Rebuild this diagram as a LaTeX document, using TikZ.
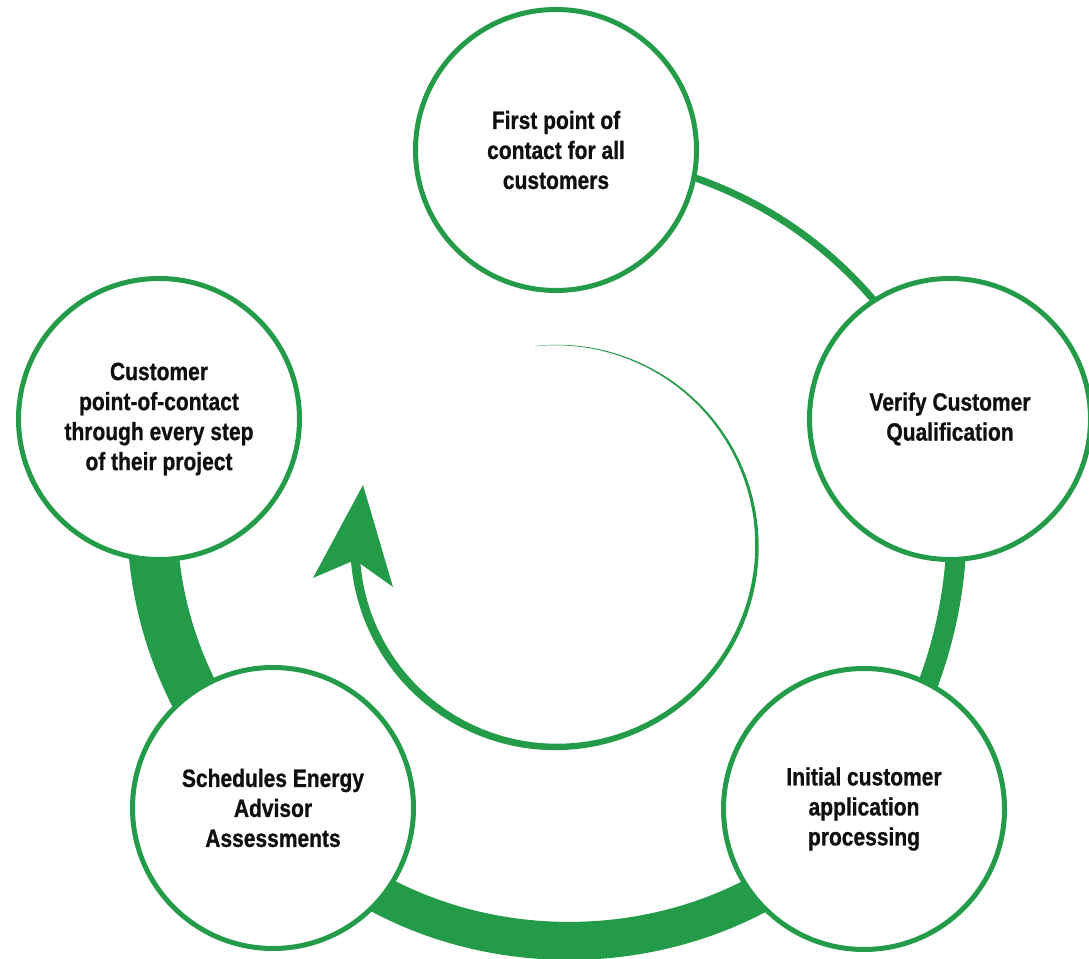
\documentclass[tikz,border=0pt]{standalone}
\usepackage{fontspec}
\setmainfont{Liberation Sans}[FakeStretch=0.84, BoldFeatures={FakeBold=0.8}]
\usepackage{tikz}
\usetikzlibrary{backgrounds}
\definecolor{stGreen}{RGB}{35,155,73}
\definecolor{stText}{RGB}{15,15,15}
\tikzset{
    base/.style={font=\fontsize{25}{30}\selectfont\bfseries, align=center, text=stText},
    stepnode/.style={base, circle, draw=stGreen, line width=5pt, fill=white,
                     minimum size=281pt, inner sep=0pt},
    ring/.style={draw=stGreen, line width=#1}
}
\begin{document}
\begin{tikzpicture}[x=1pt, y=1pt]
  \useasboundingbox (0,0) rectangle (1089,958);
  \node[stepnode] (first) at (556,808) {First point of\\ contact for all\\ customers};
  \node[stepnode] (verify) at (950,539) {Verify Customer\\ Qualification};
  \node[stepnode] (initial) at (864,149) {Initial customer\\ application\\ processing};
  \node[stepnode] (schedule) at (273,150) {Schedules Energy\\ Advisor\\ Assessments};
  \node[stepnode] (contact) at (159,539) {Customer\\ point-of-contact\\ through every step\\ of their project};

  \begin{scope}[on background layer]
    \draw[ring=7pt] (first.center) to[bend left=30] (verify.center);
    \draw[ring=20pt] (verify.center) to[bend left=20] (initial.center);
    \draw[ring=38pt] (initial.center) to[bend left=50] (schedule.center);
    \draw[ring=50pt] (schedule.center) to[bend left=25] (contact.center);
  \end{scope}

  % inner cycle arrow
  \begin{scope}[shift={(556,412)}]
    \fill[stGreen] plot[domain=96:-176, samples=90] (\x:{201+(0.3+0.033*(96-\x))/2})
      -- plot[domain=-176:96, samples=90] (\x:{201-(0.3+0.033*(96-\x))/2}) -- cycle;
  \end{scope}
  \fill[stGreen] (363,473) -- (393,371) -- (355,398) -- (313,380) -- cycle;
\end{tikzpicture}
\end{document}
